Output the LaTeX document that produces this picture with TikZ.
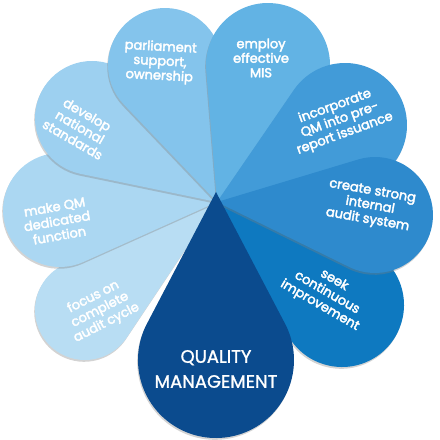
\documentclass[tikz,border=0pt]{standalone}
\usepackage{fontspec}
\setmainfont{Poppins}
\newfontfamily\petalfont{Poppins}[FakeBold=2.8]
\newfontfamily\corefont{Poppins}[FakeBold=1.2]
\usetikzlibrary{calc, shadows}

\definecolor{petalA}{HTML}{B8DDF3}
\definecolor{petalB}{HTML}{ABD7F2}
\definecolor{petalC}{HTML}{9DD0F0}
\definecolor{petalD}{HTML}{84C4EC}
\definecolor{petalE}{HTML}{62B3E4}
\definecolor{petalF}{HTML}{429BD8}
\definecolor{petalG}{HTML}{2E8ACD}
\definecolor{petalH}{HTML}{0E79C0}
\definecolor{coreblue}{HTML}{0B4B8E}

% teardrop from a tip to a round end: tip, centre, radius (pt)
\newcommand{\teardrop}[3]{%
  let \p1 = ($(#2)-(#1)$), \n1 = {atan2(\y1,\x1)}, \n2 = {asin(#3/veclen(\x1,\y1))}
  in (#1) -- ($(#2)+(\n1-90-\n2:#3pt)$)
     arc[start angle=\n1-90-\n2, end angle=\n1+90+\n2, radius=#3pt] -- cycle}

\begin{document}
\begin{tikzpicture}[
    x=1pt, y=1pt,
    petal/.style={drop shadow={shadow xshift=-0.8pt, shadow yshift=-1.8pt, opacity=0.35}},
    lbl/.style={text=white, inner sep=0pt, align=center, font=\petalfont\fontsize{13}{14.5}\selectfont},
    corelbl/.style={text=white, inner sep=0pt, align=center, font=\corefont\fontsize{18}{25}\selectfont}
]
\useasboundingbox (0,0) rectangle (440,440);

% tips and round ends
\coordinate (tip) at (217,238);
\coordinate (c-focus) at (85,130);
\coordinate (c-make) at (60,230);
\coordinate (c-develop) at (92,322);
\coordinate (c-parl) at (165,375);
\coordinate (c-employ) at (268,375);
\coordinate (c-incorp) at (345,315);
\coordinate (c-create) at (375,225);
\coordinate (c-seek) at (342,135);
\coordinate (core-tip) at (216,248);
\coordinate (c-core) at (216,80);

% petals
\fill[petal, fill=petalA] \teardrop{tip}{c-focus}{50};
\fill[petal, fill=petalB] \teardrop{tip}{c-make}{57};
\fill[petal, fill=petalC] \teardrop{tip}{c-develop}{57};
\fill[petal, fill=petalD] \teardrop{tip}{c-parl}{57};
\fill[petal, fill=petalE] \teardrop{tip}{c-employ}{62};
\fill[petal, fill=petalF] \teardrop{tip}{c-incorp}{62};
\fill[petal, fill=petalH] \teardrop{tip}{c-seek}{62};
\fill[petal, fill=petalG] \teardrop{tip}{c-create}{58};
\fill[petal, fill=coreblue] \teardrop{core-tip}{c-core}{78};

% labels
\node[lbl, rotate=27] (t-focus) at (100,130) {focus on\\complete\\audit cycle};
\node[lbl, rotate=10] (t-make) at (57,219) {make QM\\dedicated\\function};
\node[lbl, rotate=-30] (t-develop) at (80,313) {develop\\national\\standards};
\node[lbl, rotate=-3] (t-parl) at (160,378) {parliament\\support,\\ownership};
\node[lbl] (t-employ) at (261,382) {employ\\effective\\MIS};
\node[lbl, rotate=20] (t-incorp) at (340,320) {incorporate\\QM into pre-\\report issuance};
\node[lbl, rotate=-10] (t-create) at (370,234) {create strong\\internal\\audit system};
\node[lbl, rotate=-30] (t-seek) at (327,147) {seek\\continuous\\improvement};
\node[corelbl] (t-core) at (216,71) {QUALITY\\MANAGEMENT};

\end{tikzpicture}
\end{document}
